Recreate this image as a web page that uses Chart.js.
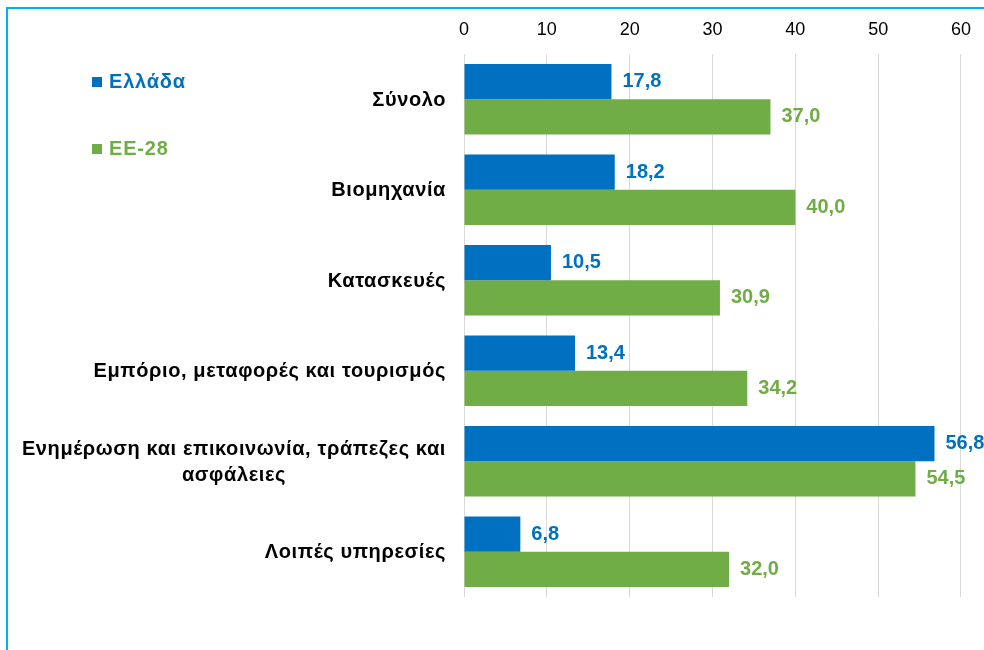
<!DOCTYPE html>
<html>
<head>
<meta charset="utf-8">
<script src="https://cdn.jsdelivr.net/npm/chart.js@4/dist/chart.umd.min.js"></script>
<style>
    body { margin: 0; background: #fff; }
    #wrap { width: 984px; height: 650px; position: relative; }
</style>
</head>
<body>
<div id="wrap"><canvas id="chart"></canvas></div>
<script>
// data
const categories = [
    ['Σύνολο'],
    ['Βιομηχανία'],
    ['Κατασκευές'],
    ['Εμπόριο, μεταφορές και τουρισμός'],
    ['Ενημέρωση και επικοινωνία, τράπεζες και', 'ασφάλειες'],
    ['Λοιπές υπηρεσίες']
];
const seriesNames = ['Ελλάδα', 'ΕΕ-28'];
const greeceValues = [17.8, 18.2, 10.5, 13.4, 56.8, 6.8];
const eu28Values = [37.0, 40.0, 30.9, 34.2, 54.5, 32.0];
const xTicks = [0, 10, 20, 30, 40, 50, 60];

const BLUE = '#0070c0';
const GREEN = '#70ad47';
const FONT = '"Liberation Sans", Arial, sans-serif';

const fmt = v => v.toFixed(1).replace('.', ',');

// light blue frame on the left and top edge
const framePlugin = {
    id: 'frame',
    beforeDraw(chart) {
        const ctx = chart.ctx;
        ctx.save();
        ctx.fillStyle = '#fff';
        ctx.fillRect(0, 0, chart.width, chart.height);
        ctx.strokeStyle = '#00b0f0';
        ctx.lineWidth = 2;
        ctx.beginPath();
        ctx.moveTo(7, chart.height);
        ctx.lineTo(7, 8);
        ctx.lineTo(chart.width, 8);
        ctx.stroke();
        ctx.restore();
    }
};

// category labels: block right aligned, each line centered inside the block
const catLabelPlugin = {
    id: 'catLabels',
    afterDraw(chart) {
        const ctx = chart.ctx;
        const y = chart.scales.y;
        const lineH = 26;
        ctx.save();
        ctx.font = 'bold 20px ' + FONT;
        ctx.letterSpacing = '0.6px';
        ctx.fillStyle = '#000';
        ctx.textBaseline = 'middle';
        ctx.textAlign = 'left';
        const right = y.right - 18;
        categories.forEach((lines, i) => {
            const widths = lines.map(l => ctx.measureText(l).width);
            const w = Math.max(...widths);
            const cy = y.getPixelForValue(i) + 1 - (lines.length - 1) * lineH / 2;
            lines.forEach((l, k) => {
                ctx.fillText(l, right - w / 2 - widths[k] / 2, cy + k * lineH);
            });
        });
        ctx.restore();
    }
};

// value labels at the end of each bar
const valueLabelPlugin = {
    id: 'valueLabels',
    afterDatasetsDraw(chart) {
        const ctx = chart.ctx;
        ctx.save();
        ctx.font = 'bold 20px ' + FONT;
        ctx.textBaseline = 'middle';
        ctx.textAlign = 'left';
        chart.data.datasets.forEach((ds, di) => {
            const meta = chart.getDatasetMeta(di);
            ctx.fillStyle = ds.backgroundColor;
            meta.data.forEach((bar, i) => {
                ctx.fillText(fmt(ds.data[i]), bar.x + 11, bar.y);
            });
        });
        ctx.restore();
    }
};

// legend placed top-left like the original
const legendPlugin = {
    id: 'customLegend',
    afterDraw(chart) {
        const ctx = chart.ctx;
        const pos = [82, 149];
        ctx.save();
        ctx.font = 'bold 20px ' + FONT;
        ctx.letterSpacing = '0.8px';
        ctx.textBaseline = 'middle';
        chart.data.datasets.forEach((ds, di) => {
            ctx.fillStyle = ds.backgroundColor;
            ctx.fillRect(92, pos[di] - 5, 10, 10);
            ctx.fillText(ds.label, 109, pos[di]);
        });
        ctx.restore();
    }
};

const ctx = document.getElementById('chart').getContext('2d');
new Chart(ctx, {
    type: 'bar',
    data: {
        labels: categories.map(c => c.join(' ')),
        datasets: [
            {
                label: seriesNames[0],
                data: greeceValues,
                backgroundColor: BLUE,
                barPercentage: 1,
                categoryPercentage: 0.78
            },
            {
                label: seriesNames[1],
                data: eu28Values,
                backgroundColor: GREEN,
                barPercentage: 1,
                categoryPercentage: 0.78
            }
        ]
    },
    options: {
        indexAxis: 'y',
        responsive: true,
        maintainAspectRatio: false,
        animation: false,
        layout: {
            padding: { top: 0, right: 21, bottom: 53, left: 0 }
        },
        plugins: {
            legend: { display: false },
            tooltip: { enabled: false }
        },
        scales: {
            x: {
                position: 'top',
                min: 0,
                max: 60,
                afterBuildTicks: scale => {
                    scale.ticks = xTicks.map(v => ({ value: v }));
                },
                afterFit: scale => { scale.height = 54; },
                grid: {
                    color: '#d9d9d9',
                    drawTicks: false
                },
                border: { display: false },
                ticks: {
                    color: '#000',
                    padding: 13,
                    font: { family: FONT, size: 18 }
                }
            },
            y: {
                afterFit: scale => { scale.width = 464; },
                grid: { display: false },
                border: { display: false },
                ticks: { display: false }
            }
        }
    },
    plugins: [framePlugin, catLabelPlugin, valueLabelPlugin, legendPlugin]
});
</script>
</body>
</html>
